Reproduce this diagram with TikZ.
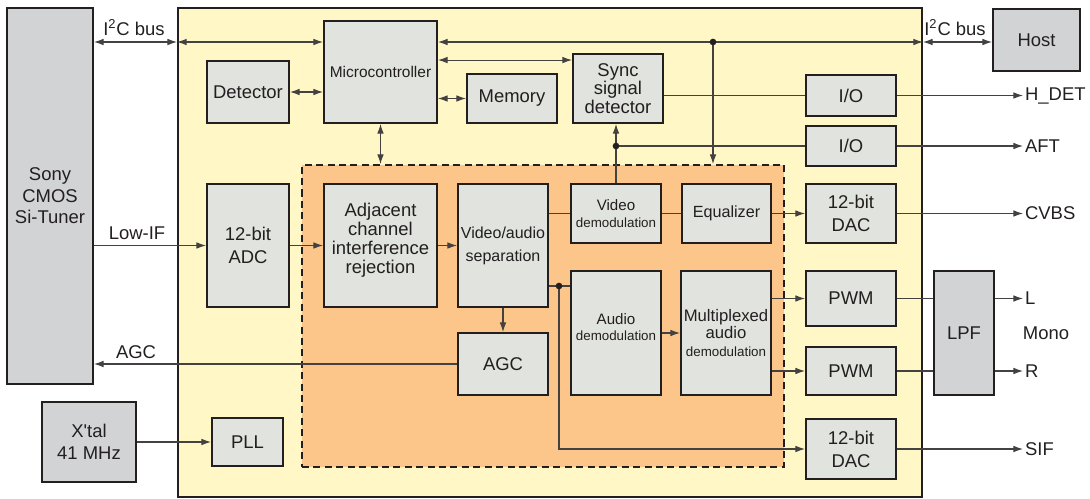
\documentclass[tikz,border=0pt]{standalone}
\usepackage{fontspec}
\setmainfont{Liberation Sans}
\usetikzlibrary{arrows.meta,calc}

\definecolor{chipyellow}{HTML}{FFF8C6}
\definecolor{coreorange}{HTML}{FCC68A}
\definecolor{blockgray}{HTML}{E0E3DE}
\definecolor{extgray}{HTML}{D2D3D5}
\definecolor{ink}{HTML}{231F20}

\tikzset{
  sz/.style 2 args={minimum width=#1*0.02cm, minimum height=#2*0.02cm},
  blk/.style={draw=ink, line width=1.1pt, fill=blockgray, text=ink, inner sep=0pt,
    align=center, font=\fontsize{10.5}{11.5}\selectfont},
  ext/.style={blk, fill=extgray},
  fsmall/.style={font=\fontsize{8.8}{10}\selectfont},
  ftiny/.style={font=\fontsize{7.6}{9.5}\selectfont},
  lbl/.style={text=ink, inner sep=1pt, font=\fontsize{10.5}{12}\selectfont},
  conn/.style={draw=ink!85, line width=0.6pt},
  sig/.style={conn, -{Latex[length=5.5pt,width=3.8pt]}},
  bus/.style={conn, {Latex[length=5.5pt,width=3.8pt]}-{Latex[length=5.5pt,width=3.8pt]}},
  jn/.style={circle, fill=ink, inner sep=0pt, minimum size=3.8pt},
}

\begin{document}
\begin{tikzpicture}[x=0.02cm, y=-0.02cm]
\useasboundingbox (0,0) rectangle (1090,498);

% chip outline and demodulation core
\node[draw=ink, line width=1.1pt, fill=chipyellow, sz={744}{489}] (chip) at (550,252.5) {};
\node[draw=ink, line width=1.1pt, dash pattern=on 4pt off 2.5pt, fill=coreorange, sz={482}{302}] (core) at (543,316) {};

% outside parts
\node[ext, sz={86}{376}, font=\fontsize{10.5}{12.3}\selectfont] (tuner) at (50,196) {Sony\\CMOS\\Si-Tuner};
\node[ext, sz={87}{62}] (host) at (1036.5,40) {Host};
\node[ext, sz={94}{80}, font=\fontsize{10.5}{12.5}\selectfont] (xtal) at (89,442) {X\textquotesingle tal\\41 MHz};
\node[ext, sz={60}{124}] (lpf) at (964,333) {LPF};

% blocks on the chip
\node[blk, sz={82}{62}] (det) at (248,92) {Detector};
\node[blk, fsmall, sz={113}{102}] (mcu) at (380.5,72) {Microcontroller};
\node[blk, sz={90}{49}] (mem) at (512,98.5) {Memory};
\node[blk, sz={90}{69}, font=\fontsize{10.5}{10.5}\selectfont] (sync) at (618,88.5) {Sync\\signal\\detector};
\node[blk, sz={90}{41}] (io1) at (851,95.5) {I/O};
\node[blk, sz={90}{40}] (io2) at (851,146) {I/O};
\node[blk, sz={82}{123}, font=\fontsize{10.5}{13}\selectfont] (adc) at (248,245.5) {12-bit\\ADC};
\node[blk, sz={71}{48}] (pll) at (247.5,442) {PLL};
\node[blk, sz={90}{59}, font=\fontsize{10.5}{13}\selectfont] (dac1) at (851,213.5) {12-bit\\DAC};
\node[blk, sz={90}{55}] (pwm1) at (851,298.5) {PWM};
\node[blk, sz={90}{48}] (pwm2) at (851,371) {PWM};
\node[blk, sz={90}{60}, font=\fontsize{10.5}{13}\selectfont] (dac2) at (851,449) {12-bit\\DAC};

% blocks in the core
\node[blk, sz={113}{123}, font=\fontsize{10.5}{10.8}\selectfont] (acir) at (380.5,245.5) {Adjacent\\channel\\interference\\rejection\\[-2.8pt]};
\node[blk, sz={90}{123}, font=\fontsize{9.1}{13}\selectfont] (vasep) at (503,245.5) {Video/audio\\separation};
\node[blk, ftiny, sz={90}{59}] (vdem) at (616,213.5) {\fontsize{8.6}{9.5}\selectfont Video\\demodulation};
\node[blk, sz={89}{59}, font=\fontsize{9.2}{10}\selectfont] (eq) at (726.5,213.5) {Equalizer};
\node[blk, ftiny, sz={90}{124}] (adem) at (616,333) {\fontsize{8.6}{9.5}\selectfont Audio\\demodulation\\[-2.7pt]};
\node[blk, sz={90}{124}, font=\fontsize{9.5}{10}\selectfont] (mux) at (726,333) {Multiplexed\\audio\\{\fontsize{7.6}{10}\selectfont demodulation}};
\node[blk, sz={90}{62}] (agc) at (503,364) {AGC};

% pin labels
\node[lbl] (i2cl) at (134,28) {I\textsuperscript{2}C bus};
\node[lbl] (i2cr) at (955,28) {I\textsuperscript{2}C bus};
\node[lbl] (lowif) at (137,233) {Low-IF};
\node[lbl] (agcl) at (136,352) {AGC};
\node[lbl, anchor=west] (hdet) at (1023,95.5) {H\_DET};
\node[lbl, anchor=west] (aft) at (1023,146) {AFT};
\node[lbl, anchor=west] (cvbs) at (1023,213.5) {CVBS};
\node[lbl, anchor=west] (outl) at (1023,298.5) {L};
\node[lbl, anchor=west] (outr) at (1023,371) {R};
\node[lbl] (mono) at (1046,333) {Mono};
\node[lbl, anchor=west] (sif) at (1023,449) {SIF};

% I2C bus
\coordinate (tap) at (713,42);
\draw[bus] (tuner.east |- tap) -- (chip.west |- tap);
\draw[bus] (chip.west |- tap) -- (mcu.west |- tap);
\draw[bus] (mcu.east |- tap) -- (chip.east |- tap);
\draw[bus] (chip.east |- tap) -- (host.west |- tap);
\draw[sig] (tap) -- (tap |- core.north);
\node[jn] (tapdot) at (tap) {};

% microcontroller links
\coordinate (synclink) at ($(sync.north west)+(0,7)$);
\draw[bus] (det.east) -- (det.east -| mcu.west);
\draw[bus] (mem.west -| mcu.east) -- (mem.west);
\draw[bus] (synclink -| mcu.east) -- (synclink);
\draw[bus] (mcu.south) -- (mcu.south |- core.north);

% sync and AFT outputs
\coordinate (afttap) at (vdem.north |- io2.west);
\draw[conn] (sync.east |- io1.west) -- (io1.west);
\draw[sig] (io1.east) -- (hdet.west);
\draw[sig] (vdem.north) -- (vdem.north |- sync.south);
\draw[conn] (afttap) -- (io2.west);
\node[jn] (aftdot) at (afttap) {};
\draw[sig] (io2.east) -- (aft.west);

% video path
\draw[sig] (tuner.east |- adc.west) -- (adc.west);
\draw[sig] (adc.east) -- (acir.west);
\draw[sig] (acir.east) -- (vasep.west);
\draw[conn] (vasep.east |- vdem.west) -- (vdem.west);
\draw[conn] (vdem.east) -- (eq.west);
\draw[sig] (eq.east) -- (dac1.west);
\draw[sig] (dac1.east) -- (cvbs.west);

% audio path
\coordinate (split) at (559,286);
\draw[conn] (vasep.east |- split) -- (adem.west |- split);
\draw[sig] (split) |- (dac2.west);
\node[jn] (splitdot) at (split) {};
\draw[sig] (adem.east) -- (mux.west);
\draw[sig] (mux.east |- pwm1.west) -- (pwm1.west);
\draw[sig] (mux.east |- pwm2.west) -- (pwm2.west);
\draw[conn] (pwm1.east) -- (pwm1.east -| lpf.west);
\draw[conn] (pwm2.east) -- (pwm2.east -| lpf.west);
\draw[sig] (lpf.east |- pwm1.east) -- (outl.west);
\draw[sig] (lpf.east |- pwm2.east) -- (outr.west);
\draw[sig] (dac2.east) -- (sif.west);

% gain control and clock
\draw[sig] (vasep.south) -- (agc.north);
\draw[sig] (agc.west) -- (agc.west -| tuner.east);
\draw[sig] (xtal.east) -- (pll.west);
\end{tikzpicture}
\end{document}
